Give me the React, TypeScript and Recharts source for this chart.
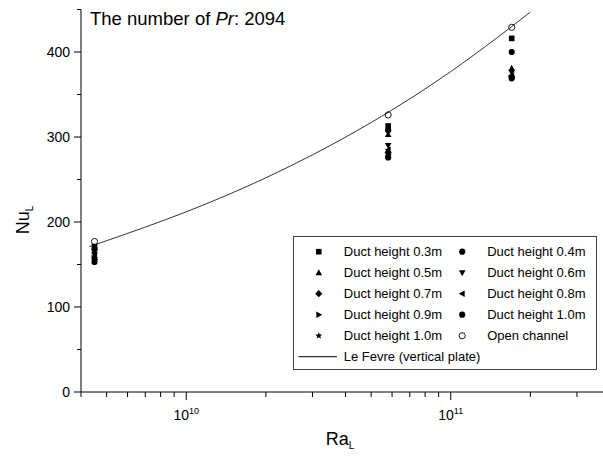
import React from 'react';
import { ComposedChart, Scatter, Line, XAxis, YAxis, Legend } from 'recharts';

// Ra_L positions of the three measurement groups
const raGroups = [4.5e9, 5.8e10, 1.7e11];

// Nu_L, one value per group
const duct03 = [171, 313, 416];
const duct04 = [168, 308, 400];
const duct05 = [165, 303, 381];
const duct06 = [162, 290, 376];
const duct07 = [158, 282, 371];
const duct08 = [160, 285, 372];
const duct09 = [156, 279, 370];
const duct10a = [153, 276, 369];
const duct10b = [155, 280, 370];
const openChannel = [177, 326, 429];

// Le Fevre (vertical plate) curve
const leFevreRa = [4.3e9, 7e9, 1e10, 2e10, 3e10, 5e10, 1e11, 1.5e11, 2e11];
const leFevreNu = [171, 194, 212, 252, 279, 317, 377, 417, 447];

const xTicks = [4e9, 5e9, 6e9, 7e9, 8e9, 9e9, 1e10, 2e10, 3e10, 4e10, 5e10, 6e10, 7e10, 8e10, 9e10, 1e11, 2e11, 3e11];
const yTicks = [0, 50, 100, 150, 200, 250, 300, 350, 400, 450];

const FONT = '"Liberation Sans", Arial, sans-serif';

type Kind = 'square' | 'circle' | 'up' | 'down' | 'diamond' | 'left' | 'right' | 'star' | 'open';

const series: { name: string; kind: Kind; values: number[] }[] = [
  { name: 'Duct height 0.3m', kind: 'square', values: duct03 },
  { name: 'Duct height 0.4m', kind: 'circle', values: duct04 },
  { name: 'Duct height 0.5m', kind: 'up', values: duct05 },
  { name: 'Duct height 0.6m', kind: 'down', values: duct06 },
  { name: 'Duct height 0.7m', kind: 'diamond', values: duct07 },
  { name: 'Duct height 0.8m', kind: 'left', values: duct08 },
  { name: 'Duct height 0.9m', kind: 'right', values: duct09 },
  { name: 'Duct height 1.0m', kind: 'circle', values: duct10a },
  { name: 'Duct height 1.0m', kind: 'star', values: duct10b },
  { name: 'Open channel', kind: 'open', values: openChannel },
];

const lineData = leFevreRa.map((x, i) => ({ x, y: leFevreNu[i] }));

function Marker({ cx, cy, kind }: { cx: number; cy: number; kind: Kind }) {
  if (cx == null || cy == null) return null;
  const s = 3;
  switch (kind) {
    case 'square':
      return <rect x={cx - 2.8} y={cy - 2.8} width={5.6} height={5.6} fill="#000" />;
    case 'circle':
      return <circle cx={cx} cy={cy} r={3.1} fill="#000" />;
    case 'open':
      return <circle cx={cx} cy={cy} r={3.1} fill="none" stroke="#000" strokeWidth={0.9} />;
    case 'up':
      return <polygon points={`${cx},${cy - s - 0.5} ${cx + s + 0.3},${cy + s - 0.5} ${cx - s - 0.3},${cy + s - 0.5}`} fill="#000" />;
    case 'down':
      return <polygon points={`${cx},${cy + s + 0.5} ${cx + s + 0.3},${cy - s + 0.5} ${cx - s - 0.3},${cy - s + 0.5}`} fill="#000" />;
    case 'left':
      return <polygon points={`${cx - s - 0.5},${cy} ${cx + s - 0.5},${cy - s - 0.3} ${cx + s - 0.5},${cy + s + 0.3}`} fill="#000" />;
    case 'right':
      return <polygon points={`${cx + s + 0.5},${cy} ${cx - s + 0.5},${cy - s - 0.3} ${cx - s + 0.5},${cy + s + 0.3}`} fill="#000" />;
    case 'diamond':
      return <polygon points={`${cx},${cy - 3.6} ${cx + 3.6},${cy} ${cx},${cy + 3.6} ${cx - 3.6},${cy}`} fill="#000" />;
    case 'star': {
      const pts: string[] = [];
      for (let i = 0; i < 10; i++) {
        const r = i % 2 === 0 ? 3.8 : 1.6;
        const a = -Math.PI / 2 + (i * Math.PI) / 5;
        pts.push(`${cx + r * Math.cos(a)},${cy + r * Math.sin(a)}`);
      }
      return <polygon points={pts.join(' ')} fill="#000" />;
    }
  }
  return null;
}

const XTick = (props: any) => {
  const { x, y, payload } = props;
  const lg = Math.log10(payload.value);
  const major = Math.abs(lg - Math.round(lg)) < 1e-6;
  return (
    <g>
      <line x1={x} y1={y} x2={x} y2={y + (major ? 8 : 5)} stroke="#000" />
      {major && (
        <text x={x} y={y + 28} textAnchor="middle" fontSize={14} fontFamily={FONT} fill="#000">
          10<tspan dy={-6} fontSize={9}>{Math.round(lg)}</tspan>
        </text>
      )}
    </g>
  );
};

const YTick = (props: any) => {
  const { x, y, payload } = props;
  const major = payload.value % 100 === 0;
  return (
    <g>
      <line x1={x} y1={y} x2={x - (major ? 7 : 4)} y2={y} stroke="#000" />
      {major && (
        <text x={x - 11} y={y + 5} textAnchor="end" fontSize={14} fontFamily={FONT} fill="#000">
          {payload.value}
        </text>
      )}
    </g>
  );
};

const LegendBox = () => {
  const rowY = (r: number) => 15.7 + r * 21;
  return (
    <svg width={304} height={134} style={{ display: 'block' }}>
      <rect x={0.5} y={0.5} width={303} height={133} fill="#fff" stroke="#444" />
      {series.map((s, i) => {
        const col = i % 2;
        const row = Math.floor(i / 2);
        const sx = col === 0 ? 25.8 : 169.2;
        const tx = col === 0 ? 50.8 : 194.2;
        return (
          <g key={i}>
            <Marker cx={sx} cy={rowY(row)} kind={s.kind} />
            <text x={tx} y={rowY(row) + 4.6} fontSize={13} fontFamily={FONT} fill="#000">
              {s.name}
            </text>
          </g>
        );
      })}
      <line x1={5.5} y1={rowY(5)} x2={44} y2={rowY(5)} stroke="#000" />
      <text x={50.8} y={rowY(5) + 4.6} fontSize={13} fontFamily={FONT} fill="#000">
        Le Fevre (vertical plate)
      </text>
    </svg>
  );
};

export default function App() {
  return (
    <div style={{ position: 'absolute', left: 0, top: 0, width: 603, height: 457, overflow: 'hidden', background: '#fff' }}>
      <ComposedChart width={620} height={457} margin={{ top: 9.5, right: 10, bottom: 0, left: 0 }}>
        <XAxis
          type="number"
          dataKey="x"
          scale="log"
          domain={[4e9, 4e11]}
          allowDataOverflow
          ticks={xTicks}
          interval={0}
          tickSize={0}
          tickMargin={0}
          tickLine={false}
          tick={<XTick />}
          height={65}
          stroke="#000"
        />
        <YAxis
          type="number"
          dataKey="y"
          domain={[0, 450]}
          allowDataOverflow
          ticks={yTicks}
          interval={0}
          tickSize={0}
          tickMargin={0}
          tickLine={false}
          tick={<YTick />}
          width={81}
          stroke="#000"
        />
        <Line
          data={lineData}
          dataKey="y"
          type="monotone"
          stroke="#333"
          strokeWidth={1}
          dot={false}
          activeDot={false}
          isAnimationActive={false}
        />
        {series.map((s, i) => (
          <Scatter
            key={i}
            name={s.name}
            data={raGroups.map((x, j) => ({ x, y: s.values[j] }))}
            dataKey="y"
            isAnimationActive={false}
            shape={(p: any) => <Marker cx={p.cx} cy={p.cy} kind={s.kind} />}
          />
        ))}
        <Legend
          layout="horizontal"
          verticalAlign="middle"
          align="center"
          content={<LegendBox />}
          wrapperStyle={{ position: 'absolute', left: 292.5, top: 236, width: 304, height: 134 }}
        />
      </ComposedChart>
      <div style={{ position: 'absolute', left: 90, top: 8, fontFamily: FONT, fontSize: 18.5, color: '#000', whiteSpace: 'nowrap' }}>
        The number of <i>Pr</i>: 2094
      </div>
      <div
        style={{
          position: 'absolute',
          left: 24,
          top: 220,
          transform: 'translate(-50%, -50%) rotate(-90deg)',
          fontFamily: FONT,
          fontSize: 18,
          color: '#000',
          whiteSpace: 'nowrap',
        }}
      >
        Nu<sub style={{ fontSize: 10 }}>L</sub>
      </div>
      <div
        style={{
          position: 'absolute',
          left: 340,
          top: 440,
          transform: 'translate(-50%, -50%)',
          fontFamily: FONT,
          fontSize: 18,
          color: '#000',
          whiteSpace: 'nowrap',
        }}
      >
        Ra<sub style={{ fontSize: 10 }}>L</sub>
      </div>
    </div>
  );
}
